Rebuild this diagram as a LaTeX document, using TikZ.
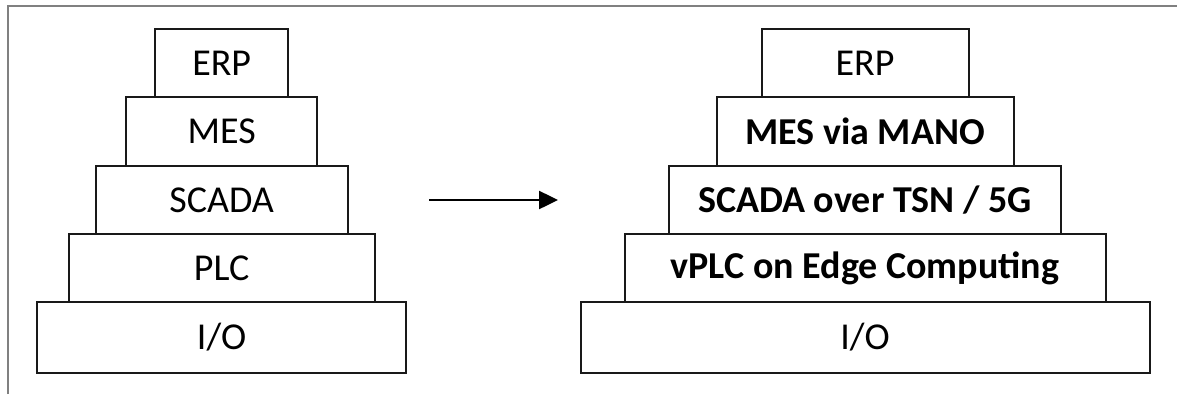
\documentclass[tikz,border=0pt]{standalone}
\usepackage{fontspec}
\setmainfont{Carlito}
\usetikzlibrary{arrows.meta}
\begin{document}
\begin{tikzpicture}[x=1pt,y=-1pt,
  layer/.style={draw=black!90, line width=2pt, inner sep=0pt, text=black,
                font=\fontsize{38}{45}\selectfont},
  newlayer/.style={layer, font=\fontsize{38}{45}\selectfont\bfseries},
  frameline/.style={draw=black!50, line width=1.3pt},
  flow/.style={draw=black, line width=2.5pt, -{Triangle[length=19pt,width=18pt]}}]
\useasboundingbox (0,0) rectangle (1177,394);
% open frame: top and left edges
\draw[frameline] (8,394) -- (8,6) -- (1177,6);

% classic automation pyramid
\node[layer, minimum width=133pt, minimum height=68pt] (lerp) at (221.7,63) {ERP};
\node[layer, minimum width=191.3pt, minimum height=69pt] (lmes) at (221.7,131.5) {MES};
\node[layer, minimum width=252pt, minimum height=68pt] (lscada) at (221.7,200) {SCADA};
\node[layer, minimum width=305.7pt, minimum height=68pt] (lplc) at (221.7,268) {PLC};
\node[layer, minimum width=369pt, minimum height=71pt] (lio) at (221.7,337.5) {I/O};

% virtualised pyramid
\node[layer, minimum width=207pt, minimum height=68pt] (rerp) at (865,63) {ERP};
\node[newlayer, minimum width=297pt, minimum height=69pt] (rmes) at (865,131.5) {MES via MANO};
\node[newlayer, minimum width=392pt, minimum height=68pt] (rscada) at (865,200) {SCADA over TSN / 5G};
\node[newlayer, minimum width=481pt, minimum height=68pt] (rplc) at (865,268) {vPLC on Edge Computing};
\node[layer, minimum width=569pt, minimum height=71pt] (rio) at (865,337.5) {I/O};

% migration arrow
\coordinate (migfrom) at (429,200);
\coordinate (migto) at (558,200);
\draw[flow] (migfrom) -- (migto);
\end{tikzpicture}
\end{document}
